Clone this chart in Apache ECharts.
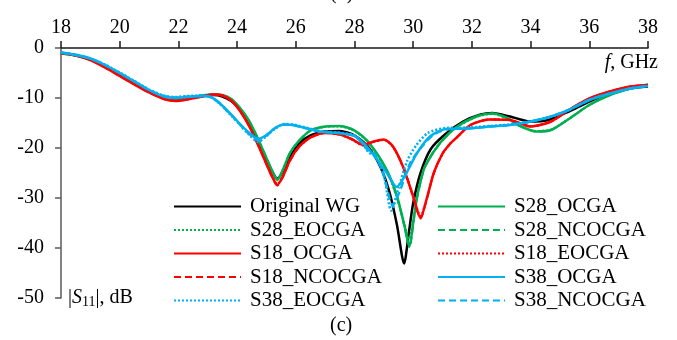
<!DOCTYPE html>
<html>
<head>
<meta charset="utf-8">
<script src="https://cdn.jsdelivr.net/npm/echarts@6/dist/echarts.min.js"></script>
<style>
html,body{margin:0;padding:0;background:#fff;}
#chart{width:677px;height:340px;}
</style>
</head>
<body>
<div id="chart"></div>
<script>
// ---- data (frequency GHz, |S11| dB) ----
var xTicks = [18, 20, 22, 24, 26, 28, 30, 32, 34, 36, 38];
var yTicks = [0, -10, -20, -30, -40, -50];

var originalWG = [[18,-1.0],[18.5,-1.4],[19,-2.2],[19.5,-3.6],[20,-5.3],[20.5,-7.0],[21,-8.6],[21.5,-9.8],[21.9,-10.1],[22.3,-9.9],[22.8,-9.6],[23.2,-9.4],[23.5,-9.7],[23.8,-10.6],[24.1,-12.3],[24.4,-15.0],[24.7,-18.5],[25.0,-22.3],[25.2,-24.8],[25.37,-26.1],[25.55,-24.8],[25.8,-21.7],[26.1,-19.2],[26.5,-17.5],[27,-16.7],[27.5,-16.6],[28,-17.5],[28.5,-20.0],[28.9,-24.0],[29.2,-29.0],[29.45,-35.5],[29.69,-43.1],[29.85,-37.0],[30.0,-31.0],[30.25,-25.0],[30.6,-20.2],[31.1,-17.2],[31.7,-14.7],[32.3,-13.3],[32.7,-13.0],[33.3,-13.7],[34,-14.7],[34.6,-14.4],[35.3,-12.7],[36,-10.7],[36.7,-9.1],[37.4,-8.1],[38,-7.7]];

var s28OCGA = [[18,-1.1],[18.5,-1.5],[19,-2.3],[19.5,-3.7],[20,-5.3],[20.5,-7.0],[21,-8.6],[21.5,-9.8],[21.9,-10.1],[22.3,-9.9],[22.8,-9.5],[23.2,-9.3],[23.5,-9.4],[23.8,-10.2],[24.1,-12.0],[24.4,-14.5],[24.7,-18.0],[25.0,-22.0],[25.2,-24.6],[25.37,-26.4],[25.55,-24.5],[25.8,-21.0],[26.1,-18.6],[26.5,-16.5],[27,-15.7],[27.5,-15.6],[28,-16.5],[28.5,-19.0],[29.1,-24.4],[29.45,-29.7],[29.7,-35.5],[29.87,-39.7],[30.0,-35.0],[30.12,-30.2],[30.23,-27.2],[30.4,-23.7],[30.9,-19.1],[31.5,-15.7],[32.2,-13.6],[32.7,-13.1],[33.2,-14.0],[33.6,-15.5],[34.2,-16.7],[34.7,-16.4],[35.3,-14.2],[36,-11.4],[36.7,-9.4],[37.4,-8.1],[38,-7.3]];
var s28EOCGA = [[18,-1.1],[18.5,-1.5],[19,-2.3],[19.5,-3.7],[20,-5.4],[20.5,-7.1],[21,-8.7],[21.5,-9.8],[21.9,-10.1],[22.3,-9.9],[22.8,-9.5],[23.2,-9.3],[23.5,-9.5],[23.8,-10.3],[24.1,-12.1],[24.4,-14.6],[24.7,-18.1],[25.0,-22.1],[25.2,-24.7],[25.37,-26.2],[25.55,-24.4],[25.8,-21.0],[26.1,-18.7],[26.5,-16.6],[27,-15.8],[27.5,-15.7],[28,-16.6],[28.5,-19.1],[29.1,-24.6],[29.45,-30.0],[29.7,-35.0],[29.85,-38.2],[30.0,-34.5],[30.12,-30.0],[30.23,-27.0],[30.4,-23.6],[30.9,-19.0],[31.5,-15.8],[32.2,-13.7],[32.7,-13.2],[33.2,-14.1],[33.6,-15.5],[34.2,-16.6],[34.7,-16.3],[35.3,-14.2],[36,-11.4],[36.7,-9.4],[37.4,-8.1],[38,-7.3]];
var s28NCOCGA = [[18,-1.1],[18.5,-1.5],[19,-2.3],[19.5,-3.7],[20,-5.3],[20.5,-7.0],[21,-8.6],[21.5,-9.8],[21.9,-10.1],[22.3,-9.9],[22.8,-9.5],[23.2,-9.3],[23.5,-9.4],[23.8,-10.2],[24.1,-12.0],[24.4,-14.5],[24.7,-18.0],[25.0,-22.0],[25.2,-24.6],[25.37,-26.3],[25.55,-24.5],[25.8,-21.0],[26.1,-18.6],[26.5,-16.5],[27,-15.7],[27.5,-15.6],[28,-16.5],[28.5,-19.0],[29.1,-24.5],[29.45,-29.9],[29.7,-35.7],[29.88,-39.9],[30.0,-35.2],[30.12,-30.4],[30.23,-27.3],[30.4,-23.8],[30.9,-19.2],[31.5,-15.7],[32.2,-13.6],[32.7,-13.1],[33.2,-14.0],[33.6,-15.5],[34.2,-16.7],[34.7,-16.4],[35.3,-14.2],[36,-11.4],[36.7,-9.4],[37.4,-8.1],[38,-7.3]];

var s18OCGA = [[18,-1.0],[18.5,-1.5],[19,-2.4],[19.5,-3.9],[20,-5.6],[20.5,-7.3],[21,-8.9],[21.5,-10.2],[21.9,-10.6],[22.3,-10.3],[22.8,-9.7],[23.2,-9.3],[23.5,-9.5],[23.8,-10.5],[24.1,-12.6],[24.4,-15.5],[24.7,-19.2],[25.0,-23.2],[25.2,-25.8],[25.37,-27.4],[25.55,-25.8],[25.8,-22.5],[26.1,-19.8],[26.5,-17.9],[27,-17.0],[27.5,-17.3],[27.9,-18.2],[28.3,-19.4],[28.65,-18.7],[29.0,-18.3],[29.3,-19.6],[29.65,-23.7],[30.0,-29.7],[30.25,-34.0],[30.45,-30.4],[30.7,-25.0],[31.0,-21.1],[31.25,-19.2],[31.5,-17.8],[31.95,-15.4],[32.6,-14.3],[33.3,-14.4],[34,-15.7],[34.7,-14.7],[35.3,-12.4],[36,-10.1],[36.7,-8.7],[37.4,-7.7],[38,-7.4]];
var s18EOCGA = [[18,-1.0],[18.5,-1.4],[19,-2.3],[19.5,-3.8],[20,-5.5],[20.5,-7.2],[21,-8.8],[21.5,-10.1],[21.9,-10.5],[22.3,-10.2],[22.8,-9.7],[23.2,-9.3],[23.5,-9.5],[23.8,-10.5],[24.1,-12.5],[24.4,-15.4],[24.7,-19.1],[25.0,-23.1],[25.2,-25.6],[25.37,-27.2],[25.55,-25.7],[25.8,-22.4],[26.1,-19.8],[26.5,-17.9],[27,-17.0],[27.5,-17.3],[27.9,-18.3],[28.3,-19.5],[28.65,-18.8],[29.0,-18.4],[29.3,-19.7],[29.65,-23.8],[30.0,-29.5],[30.25,-33.6],[30.45,-30.2],[30.7,-25.0],[31.0,-21.2],[31.25,-19.2],[31.5,-17.8],[31.95,-15.4],[32.6,-14.3],[33.3,-14.4],[34,-15.6],[34.7,-14.7],[35.3,-12.4],[36,-10.1],[36.7,-8.7],[37.4,-7.7],[38,-7.4]];
var s18NCOCGA = [[18,-1.0],[18.5,-1.5],[19,-2.4],[19.5,-3.9],[20,-5.6],[20.5,-7.3],[21,-8.9],[21.5,-10.2],[21.9,-10.6],[22.3,-10.3],[22.8,-9.7],[23.2,-9.3],[23.5,-9.5],[23.8,-10.5],[24.1,-12.6],[24.4,-15.5],[24.7,-19.2],[25.0,-23.3],[25.2,-25.9],[25.37,-27.5],[25.55,-25.9],[25.8,-22.6],[26.1,-19.9],[26.5,-17.9],[27,-17.0],[27.5,-17.3],[27.9,-18.2],[28.3,-19.4],[28.65,-18.7],[29.0,-18.3],[29.3,-19.6],[29.65,-23.6],[30.0,-29.8],[30.25,-34.1],[30.45,-30.5],[30.7,-25.1],[31.0,-21.1],[31.25,-19.2],[31.5,-17.8],[31.95,-15.4],[32.6,-14.3],[33.3,-14.4],[34,-15.7],[34.7,-14.7],[35.3,-12.4],[36,-10.1],[36.7,-8.7],[37.4,-7.7],[38,-7.4]];

var s38OCGA = [[18,-0.9],[18.5,-1.4],[19,-2.1],[19.5,-3.4],[20,-5.0],[20.5,-6.7],[21,-8.4],[21.5,-9.7],[21.9,-10.0],[22.3,-9.8],[22.8,-9.6],[23.1,-9.8],[23.4,-11.0],[23.8,-13.3],[24.1,-15.2],[24.4,-16.9],[24.72,-18.2],[25.0,-17.4],[25.3,-16.0],[25.6,-15.3],[25.9,-15.4],[26.4,-16.1],[26.8,-16.7],[27.6,-17.1],[28.0,-17.6],[28.3,-19.0],[28.65,-21.4],[29.1,-25.0],[29.44,-27.8],[29.77,-25.0],[30.12,-21.1],[30.57,-17.7],[31.1,-16.2],[31.9,-16.1],[32.6,-15.7],[33.3,-15.4],[34,-14.7],[34.7,-13.7],[35.3,-12.4],[36,-10.4],[36.7,-9.1],[37.4,-8.1],[38,-7.6]];
var s38EOCGA = [[18,-0.9],[18.5,-1.3],[19,-2.1],[19.5,-3.3],[20,-4.9],[20.5,-6.6],[21,-8.3],[21.5,-9.5],[21.9,-9.8],[22.3,-9.6],[22.8,-9.5],[23.1,-9.8],[23.4,-11.1],[23.8,-13.5],[24.1,-15.4],[24.4,-17.3],[24.72,-18.8],[25.0,-17.6],[25.3,-16.1],[25.6,-15.2],[25.9,-15.3],[26.4,-16.0],[26.8,-16.6],[27.6,-17.0],[28.0,-17.5],[28.3,-19.3],[28.5,-21.0],[28.7,-21.3],[29.0,-25.5],[29.25,-32.5],[29.5,-28.0],[29.8,-22.5],[30.1,-19.5],[30.5,-17.0],[31.1,-16.0],[31.9,-15.9],[32.6,-15.6],[33.3,-15.3],[34,-14.7],[34.7,-13.7],[35.3,-12.4],[36,-10.4],[36.7,-9.1],[37.4,-8.1],[38,-7.6]];
var s38NCOCGA = [[18,-0.9],[18.5,-1.4],[19,-2.1],[19.5,-3.4],[20,-5.0],[20.5,-6.7],[21,-8.4],[21.5,-9.6],[21.9,-9.9],[22.3,-9.7],[22.8,-9.6],[23.1,-9.8],[23.4,-11.0],[23.8,-13.4],[24.1,-15.3],[24.4,-17.1],[24.72,-18.5],[25.0,-17.5],[25.3,-16.0],[25.6,-15.3],[25.9,-15.4],[26.4,-16.1],[26.8,-16.7],[27.6,-17.1],[28.0,-17.6],[28.3,-19.2],[28.5,-20.8],[28.7,-21.2],[29.0,-25.5],[29.3,-31.5],[29.55,-28.5],[29.9,-23.0],[30.3,-19.7],[30.7,-17.3],[31.2,-16.2],[31.9,-16.1],[32.6,-15.7],[33.3,-15.4],[34,-14.7],[34.7,-13.7],[35.3,-12.4],[36,-10.4],[36.7,-9.1],[37.4,-8.1],[38,-7.6]];

var legendLeft = ['Original WG', 'S28_EOCGA', 'S18_OCGA', 'S18_NCOCGA', 'S38_EOCGA'];
var legendRight = ['S28_OCGA', 'S28_NCOCGA', 'S18_EOCGA', 'S38_OCGA', 'S38_NCOCGA'];

// ---- styles ----
var BLACK = '#000000', GREEN = '#00b050', RED = '#ff0000', BLUE = '#00b0f0';
var FONT = '"Liberation Serif", "Times New Roman", serif';
var DOT = [2, 2], DASH = [7, 4];

function mk(name, data, color, type, width, z) {
  return {
    name: name, type: 'line', data: data, smooth: 0.25,
    symbol: 'none', showSymbol: false, z: z,
    lineStyle: { color: color, width: width, type: type },
    itemStyle: { color: color },
    emphasis: { disabled: true }
  };
}

var chart = echarts.init(document.getElementById('chart'), null, { renderer: 'canvas' });
var legendCommon = {
  orient: 'vertical', itemWidth: 67, itemHeight: 14, itemGap: 2.5, padding: 0,
  itemStyle: { opacity: 0 },
  textStyle: { fontFamily: FONT, fontSize: 21, color: '#000', lineHeight: 20, padding: [0, 0, 0, 4] },
  selectedMode: false
};
chart.setOption({
  animation: false,
  backgroundColor: '#fff',
  grid: { left: 61, right: 29, top: 48, bottom: 42, containLabel: false },
  xAxis: {
    type: 'value', position: 'top', min: xTicks[0], max: xTicks[xTicks.length - 1], interval: 2,
    axisLine: { show: true, onZero: false, lineStyle: { color: '#1a1a1a', width: 1.5 } },
    axisTick: { show: true, inside: false, length: 7, lineStyle: { color: '#1a1a1a', width: 1.5 } },
    axisLabel: { fontFamily: FONT, fontSize: 20, color: '#000', margin: 10 },
    splitLine: { show: false }
  },
  yAxis: {
    type: 'value', min: yTicks[yTicks.length - 1], max: yTicks[0], interval: 10,
    axisLine: { show: true, onZero: false, lineStyle: { color: '#595959', width: 1.5 } },
    axisTick: { show: true, inside: false, length: 6, lineStyle: { color: '#595959', width: 1.5 } },
    axisLabel: { fontFamily: FONT, fontSize: 20, color: '#000', margin: 17 },
    splitLine: { show: false }
  },
  legend: [
    Object.assign({}, legendCommon, { left: 173, top: 196, data: legendLeft }),
    Object.assign({}, legendCommon, { left: 437, top: 196, data: legendRight })
  ],
  series: [
    mk('Original WG', originalWG, BLACK, 'solid', 2.5, 2),
    mk('S28_EOCGA', s28EOCGA, GREEN, DOT, 2, 3),
    mk('S28_NCOCGA', s28NCOCGA, GREEN, DASH, 2, 3),
    mk('S28_OCGA', s28OCGA, GREEN, 'solid', 2.5, 4),
    mk('S18_EOCGA', s18EOCGA, RED, DOT, 2, 5),
    mk('S18_NCOCGA', s18NCOCGA, RED, DASH, 2, 5),
    mk('S18_OCGA', s18OCGA, RED, 'solid', 2.5, 6),
    mk('S38_EOCGA', s38EOCGA, BLUE, DOT, 2.5, 7),
    mk('S38_NCOCGA', s38NCOCGA, BLUE, DASH, 2.5, 7),
    mk('S38_OCGA', s38OCGA, BLUE, 'solid', 2.5, 8)
  ],
  graphic: [
    { type: 'text', right: 19, top: 53, style: { text: '{i|f}, GHz', font: '20px ' + FONT, fill: '#000',
      rich: { i: { fontStyle: 'italic', fontFamily: FONT, fontSize: 20 } } } },
    { type: 'text', left: 68, top: 288, style: { text: '|{i|S}{s|11}|, dB', font: '20px ' + FONT, fill: '#000',
      rich: { i: { fontStyle: 'italic', fontFamily: FONT, fontSize: 20 }, s: { fontFamily: FONT, fontSize: 14, padding: [8, 0, 0, 0] } } } },
    { type: 'text', left: 330, top: 316, style: { text: '(c)', font: '20px ' + FONT, fill: '#000' } },
    { type: 'text', left: 330, top: -16, style: { text: '(b)', font: '20px ' + FONT, fill: '#000' } }
  ]
});
</script>
</body>
</html>
